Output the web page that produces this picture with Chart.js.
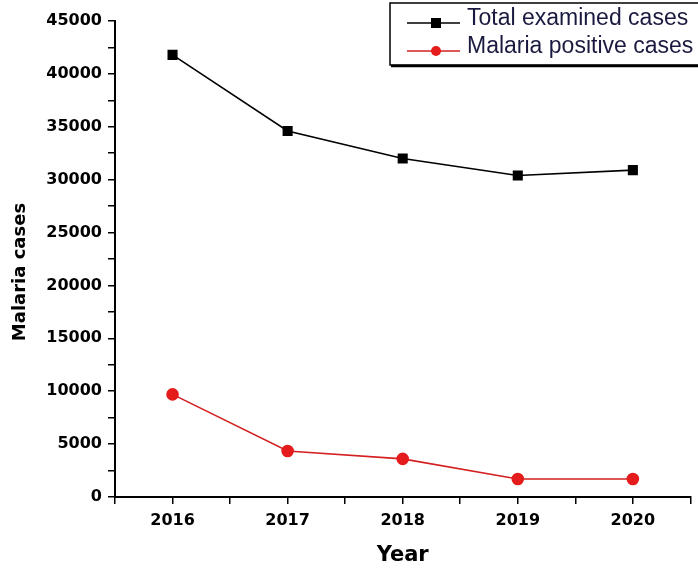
<!DOCTYPE html>
<html lang="en">
	<head>
		<meta charset="UTF-8" />
		<title>Malaria cases</title>
		<script src="https://cdn.jsdelivr.net/npm/chart.js"></script>
		<style>
			html, body { margin: 0; padding: 0; background: #fff; }
			#wrap { width: 698px; height: 571px; }
		</style>
	</head>
	<body>
		<div id="wrap"><canvas id="malaria" width="698" height="571"></canvas></div>
		<script>
			// data
			const years = [2016, 2017, 2018, 2019, 2020];
			const totalExamined = [41800, 34600, 32000, 30400, 30900];
			const malariaPositive = [9700, 4350, 3600, 1700, 1700];
			const yTicks = [0, 5000, 10000, 15000, 20000, 25000, 30000, 35000, 40000, 45000];

			const toPoints = (vals) => years.map((yr, i) => ({ x: yr, y: vals[i] }));

			// legend box in the top right corner + the y title, drawn like the original
			const boxLegend = {
				id: "boxLegend",
				afterDraw(chart) {
					const ctx = chart.ctx;
					ctx.save();
					ctx.fillStyle = "#fff";
					ctx.fillRect(390, 3, 310, 62);
					ctx.strokeStyle = "#000";
					ctx.lineWidth = 1.5;
					ctx.strokeRect(390, 3, 320, 62);
					ctx.lineWidth = 2.5;
					ctx.beginPath();
					ctx.moveTo(391, 66);
					ctx.lineTo(698, 66);
					ctx.stroke();
					const rows = [19, 47];
					chart.data.datasets.forEach((ds, i) => {
						const y = rows[i];
						ctx.strokeStyle = ds.borderColor;
						ctx.lineWidth = 1.5;
						ctx.beginPath();
						ctx.moveTo(407, y + 4);
						ctx.lineTo(460, y + 4);
						ctx.stroke();
						ctx.fillStyle = ds.pointBackgroundColor;
						if (ds.pointStyle === "rect") {
							ctx.fillRect(431, y - 1, 10, 10);
						} else {
							ctx.beginPath();
							ctx.arc(436, y + 4, 5, 0, Math.PI * 2);
							ctx.fill();
						}
						ctx.fillStyle = "#1a1a40";
						ctx.font = "23px 'Liberation Sans', Arial, sans-serif";
						ctx.textBaseline = "middle";
						ctx.textAlign = "left";
						ctx.fillText(ds.label, 467, y);
					});

					// y axis title
					ctx.translate(20, 272);
					ctx.rotate(-Math.PI / 2);
					ctx.fillStyle = "#000";
					ctx.font = "bold 18px 'DejaVu Sans', sans-serif";
					ctx.textAlign = "center";
					ctx.textBaseline = "middle";
					ctx.fillText("Malaria cases", 0, 0);
					ctx.restore();
				},
			};

			const tickFont = { family: "'DejaVu Sans', sans-serif", size: 16, weight: "bold" };

			new Chart(document.getElementById("malaria"), {
				type: "line",
				data: {
					datasets: [
						{
							label: "Total examined cases",
							data: toPoints(totalExamined),
							borderColor: "#000",
							backgroundColor: "#000",
							pointBackgroundColor: "#000",
							pointBorderColor: "#000",
							pointStyle: "rect",
							pointRadius: 6,
							borderWidth: 1.6,
							tension: 0,
						},
						{
							label: "Malaria positive cases",
							data: toPoints(malariaPositive),
							borderColor: "#d42020",
							backgroundColor: "#e41c1c",
							pointBackgroundColor: "#e41c1c",
							pointBorderColor: "#e41c1c",
							pointStyle: "circle",
							pointRadius: 5.5,
							borderWidth: 1.6,
							tension: 0,
						},
					],
				},
				options: {
					responsive: false,
					animation: false,
					layout: { padding: { top: 21, right: 3, left: 0, bottom: 0 } },
					plugins: {
						legend: { display: false },
						tooltip: { enabled: false },
					},
					scales: {
						x: {
							type: "linear",
							min: 2015.5,
							max: 2020.5,
							border: { color: "#000", width: 2 },
							grid: { drawOnChartArea: false, color: "#000", lineWidth: 1.5, tickLength: 7 },
							ticks: {
								stepSize: 0.5,
								autoSkip: false,
								maxRotation: 0,
								padding: 7,
								color: "#000",
								font: tickFont,
								callback: (v) => (years.includes(v) ? String(v) : ""),
							},
							title: {
								display: true,
								text: "Year",
								color: "#000",
								font: { family: "'DejaVu Sans', sans-serif", size: 21, weight: "bold" },
								padding: { top: 0, bottom: 3 },
							},
							afterFit: (scale) => {
								scale.height = 74;
							},
						},
						y: {
							min: 0,
							max: 45000,
							border: { color: "#000", width: 2 },
							grid: { drawOnChartArea: false, color: "#000", lineWidth: 1.5, tickLength: 7 },
							ticks: {
								stepSize: 2500,
								autoSkip: false,
								padding: 6,
								color: "#000",
								font: tickFont,
								callback: (v) => (yTicks.includes(v) ? String(v) : ""),
							},
							afterFit: (scale) => {
								scale.width = 115;
							},
						},
					},
				},
				plugins: [boxLegend],
			});
		</script>
	</body>
</html>
